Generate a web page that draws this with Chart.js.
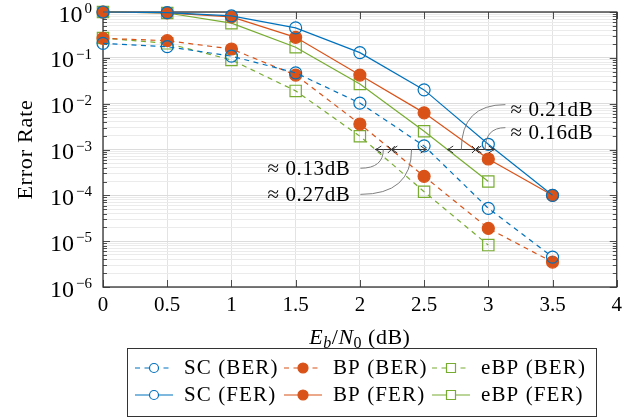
<!DOCTYPE html>
<html>
<head>
<meta charset="utf-8">
<script src="https://cdn.jsdelivr.net/npm/chart.js@4.4.0/dist/chart.umd.min.js"></script>
<style>
  html, body { margin: 0; padding: 0; background: #fff; }
  #wrap { width: 628px; height: 417px; }
</style>
</head>
<body>
<div id="wrap"><canvas id="chart" width="628" height="417"></canvas></div>
<script>
// Eb/N0 in dB
const ebn0 = [0, 0.5, 1, 1.5, 2, 2.5, 3, 3.5];

// bit error rates
const scBer  = [0.207, 0.175, 0.109, 0.047, 0.0103, 1.2e-3, 5.2e-5, 4.5e-6];
const bpBer  = [0.266, 0.237, 0.156, 0.042, 3.6e-3, 2.6e-4, 1.9e-5, 3.5e-6];
const ebpBer = [0.27, 0.207, 0.09, 0.019, 1.95e-3, 1.2e-4, 8.2e-6];

// frame error rates
const scFer  = [1.0, 0.97, 0.82, 0.45, 0.13, 0.02, 1.3e-3, 1e-4];
const bpFer  = [1.0, 0.96, 0.78, 0.28, 0.042, 6.3e-3, 6.2e-4, 1e-4];
const ebpFer = [1.0, 0.95, 0.57, 0.17, 0.027, 2.5e-3, 2.0e-4];

const labels = ["SC (BER)", "BP (BER)", "eBP (BER)", "SC (FER)", "BP (FER)", "eBP (FER)"];
const xTicks = [0, 0.5, 1, 1.5, 2, 2.5, 3, 3.5, 4];
const yDecades = [-6, -5, -4, -3, -2, -1, 0];

// gap annotations at the 1e-3 level
const gapLevel = 1e-3;
const gapGroups = [
  { left: 2.12, mid: 2.245, right: 2.52 },
  { left: 2.68, mid: 2.9, right: 3.05 }
];
const gapNotes = [
  { text: "≈ 0.13dB", x: 1.926, y: 3.9e-4, to: (2.12 + 2.245) / 2, side: "left" },
  { text: "≈ 0.27dB", x: 1.926, y: 1.05e-4, to: (2.245 + 2.52) / 2 + 0.02, side: "left" },
  { text: "≈ 0.21dB", x: 3.172, y: 7.8e-3, to: (2.68 + 2.9) / 2, side: "right" },
  { text: "≈ 0.16dB", x: 3.172, y: 2.45e-3, to: (2.9 + 3.05) / 2, side: "right" }
];

const BLUE = "#0072BD", ORANGE = "#D95319", GREEN = "#77AC30";
const FONT = "'Liberation Serif', 'DejaVu Serif', serif";

function pts(vals) {
  return vals.map((v, i) => ({ x: ebn0[i], y: v }));
}

function series(label, vals, color, style, filled, dashed) {
  return {
    label: label,
    data: pts(vals),
    borderColor: color,
    backgroundColor: color,
    borderWidth: 1.2,
    borderDash: dashed ? [5, 4.5] : [],
    pointStyle: style,
    pointRadius: style === "rect" ? 8 : 6,
    pointBorderWidth: 1.2,
    pointBorderColor: color,
    pointBackgroundColor: filled ? color : "rgba(0,0,0,0)",
    fill: false,
    tension: 0,
    clip: false
  };
}

const datasets = [
  series(labels[0], scBer, BLUE, "circle", false, true),
  series(labels[1], bpBer, ORANGE, "circle", true, true),
  series(labels[2], ebpBer, GREEN, "rect", false, true),
  series(labels[3], scFer, BLUE, "circle", false, false),
  series(labels[4], bpFer, ORANGE, "circle", true, false),
  series(labels[5], ebpFer, GREEN, "rect", false, false)
];

function isDecade(v) {
  const e = Math.round(Math.log10(v));
  return Math.abs(v / Math.pow(10, e) - 1) < 1e-6;
}

// frame + inward ticks, drawn under the data
const framePlugin = {
  id: "frame",
  beforeDatasetsDraw(chart) {
    const c = chart.ctx, a = chart.chartArea;
    const xs = chart.scales.x, ys = chart.scales.y;
    c.save();
    c.strokeStyle = "#4d4d4d";
    c.lineWidth = 1;
    c.beginPath();
    xTicks.forEach(t => {
      const x = Math.round(xs.getPixelForValue(t)) + 0.5;
      c.moveTo(x, a.bottom); c.lineTo(x, a.bottom - 7);
      c.moveTo(x, a.top); c.lineTo(x, a.top + 7);
    });
    ys.ticks.forEach(t => {
      const y = Math.round(ys.getPixelForValue(t.value)) + 0.5;
      const len = isDecade(t.value) ? 7 : 4;
      c.moveTo(a.left, y); c.lineTo(a.left + len, y);
      c.moveTo(a.right, y); c.lineTo(a.right - len, y);
    });
    c.stroke();
    c.lineWidth = 1.3;
    c.strokeStyle = "#333";
    c.strokeRect(a.left, a.top, a.right - a.left, a.bottom - a.top);

    // decade labels 10^k with a raised exponent
    c.fillStyle = "#000";
    c.textBaseline = "alphabetic";
    c.textAlign = "left";
    ys.ticks.forEach(t => {
      if (!isDecade(t.value)) return;
      const e = Math.round(Math.log10(t.value));
      const y = ys.getPixelForValue(t.value);
      const ex = e === 0 ? "0" : "\u2212" + String(-e);
      c.font = "15px " + FONT;
      const we = c.measureText(ex).width;
      c.font = "24px " + FONT;
      const wb = c.measureText("10").width;
      const right = a.left - 11;
      c.fillText("10", right - we - wb - 2, y + 9.5);
      c.font = "15px " + FONT;
      c.fillText(ex, right - we, y + 1);
    });
    c.restore();
  }
};

function arrowHead(c, x, y, dir) {
  c.moveTo(x - dir * 6, y - 3.5);
  c.quadraticCurveTo(x - dir * 2, y - 0.5, x, y);
  c.quadraticCurveTo(x - dir * 2, y + 0.5, x - dir * 6, y + 3.5);
}

const notesPlugin = {
  id: "notes",
  afterDraw(chart) {
    const c = chart.ctx, a = chart.chartArea;
    const xs = chart.scales.x, ys = chart.scales.y;
    const yl = ys.getPixelForValue(gapLevel);
    c.save();

    // gap arrows
    c.strokeStyle = "#333";
    c.lineWidth = 1;
    gapGroups.forEach(g => {
      const l = xs.getPixelForValue(g.left), m = xs.getPixelForValue(g.mid), r = xs.getPixelForValue(g.right);
      c.beginPath();
      c.moveTo(l, yl); c.lineTo(r, yl);
      arrowHead(c, l, yl, -1);
      arrowHead(c, m, yl, -1);
      arrowHead(c, r, yl, 1);
      c.moveTo(m - 3.5, yl - 3.5); c.lineTo(m + 3.5, yl + 3.5);
      c.moveTo(m - 3.5, yl + 3.5); c.lineTo(m + 3.5, yl - 3.5);
      c.stroke();
    });

    // labels with leader curves
    c.font = "21px " + FONT;
    c.letterSpacing = "0.6px";
    c.fillStyle = "#000";
    c.textBaseline = "alphabetic";
    gapNotes.forEach(n => {
      const tx = xs.getPixelForValue(n.x), ty = ys.getPixelForValue(n.y);
      const ex = xs.getPixelForValue(n.to);
      let sx;
      if (n.side === "left") {
        c.textAlign = "right";
        sx = tx + 10;
      } else {
        c.textAlign = "left";
        sx = tx - 5;
      }
      c.fillText(n.text, tx, ty + 7);
      const sy = n.side === "left" ? ty : ty - 4;
      c.beginPath();
      c.strokeStyle = "#7f7f7f";
      c.lineWidth = 1;
      c.moveTo(sx, sy);
      c.quadraticCurveTo(ex, sy, ex, yl);
      c.stroke();
    });
    c.letterSpacing = "0px";

    // axis titles
    c.textAlign = "left";
    c.textBaseline = "alphabetic";
    c.letterSpacing = "0.5px";
    const parts = [
      { t: "E", f: "italic 22px ", dy: 0 },
      { t: "b", f: "italic 16px ", dy: 4 },
      { t: "/", f: "22px ", dy: 0 },
      { t: "N", f: "italic 22px ", dy: 0 },
      { t: "0", f: "16px ", dy: 4 },
      { t: " (dB)", f: "22px ", dy: 0 }
    ];
    let w = 0;
    parts.forEach(p => { c.font = p.f + FONT; p.w = c.measureText(p.t).width; w += p.w; });
    let x = (a.left + a.right) / 2 - w / 2;
    const by = 344;
    parts.forEach(p => { c.font = p.f + FONT; c.fillText(p.t, x, by + p.dy); x += p.w; });

    c.save();
    c.translate(32, (a.top + a.bottom) / 2);
    c.rotate(-Math.PI / 2);
    c.textAlign = "center";
    c.font = "22px " + FONT;
    c.letterSpacing = "0.8px";
    c.fillText("Error Rate", 0, 0);
    c.restore();
    c.letterSpacing = "0px";

    // legend box
    c.strokeStyle = "#333";
    c.lineWidth = 1;
    c.strokeRect(127.5, 348.5, 469, 68);
    const cols = [135, 284, 432];
    const rows = [368, 395];
    chart.data.datasets.forEach((ds, i) => {
      const x0 = cols[i % 3], y0 = rows[Math.floor(i / 3)];
      c.beginPath();
      c.strokeStyle = ds.borderColor;
      c.lineWidth = 1.2;
      c.setLineDash(ds.borderDash);
      c.moveTo(x0, y0); c.lineTo(x0 + 38, y0);
      c.stroke();
      c.setLineDash([]);
      c.beginPath();
      const mx = x0 + 19;
      const filled = ds.pointBackgroundColor === ds.borderColor;
      if (ds.pointStyle === "rect") {
        c.rect(mx - 4.5, y0 - 4.5, 9, 9);
      } else {
        c.arc(mx, y0, filled ? 5 : 4.5, 0, Math.PI * 2);
      }
      c.fillStyle = filled ? ds.borderColor : "#fff";
      c.fill();
      c.stroke();
      c.fillStyle = "#000";
      c.font = "21px " + FONT;
      c.letterSpacing = "1.1px";
      c.textAlign = "left";
      c.fillText(ds.label, x0 + 49, y0 + 6);
      c.letterSpacing = "0px";
    });
    c.restore();
  }
};

const ctx = document.getElementById("chart").getContext("2d");
const chart = new Chart(ctx, {
  type: "line",
  data: { datasets: datasets },
  plugins: [framePlugin, notesPlugin],
  options: {
    responsive: false,
    animation: false,
    events: [],
    layout: { padding: { left: 0, right: 8, top: 12, bottom: 0 } },
    plugins: { legend: { display: false }, tooltip: { enabled: false } },
    scales: {
      x: {
        type: "linear",
        min: 0,
        max: 4,
        afterBuildTicks: s => { s.ticks = xTicks.map(v => ({ value: v })); },
        ticks: {
          font: { family: FONT, size: 21 },
          color: "#000",
          padding: 6,
          autoSkip: false,
          maxRotation: 0,
          callback: v => String(+v)
        },
        grid: { color: "#e3e3e3", drawTicks: false, lineWidth: 1 },
        border: { display: false },
        afterFit: s => { s.height = 130; }
      },
      y: {
        type: "logarithmic",
        min: 1e-6,
        max: 1,
        afterBuildTicks: s => {
          const t = [];
          yDecades.forEach(e => {
            for (let m = 1; m <= 9; m++) {
              if (e === 0 && m > 1) break;
              t.push({ value: m * Math.pow(10, e), major: m === 1 });
            }
          });
          s.ticks = t;
        },
        ticks: {
          display: true,
          autoSkip: false,
          padding: 0,
          font: { size: 1 },
          callback: () => ""
        },
        grid: {
          drawTicks: false,
          lineWidth: 1,
          color: c => (c.tick && isDecade(c.tick.value)) ? "#dcdcdc" : "#ebebeb"
        },
        border: { display: false },
        afterFit: s => { s.width = 103; }
      }
    }
  }
});
</script>
</body>
</html>
